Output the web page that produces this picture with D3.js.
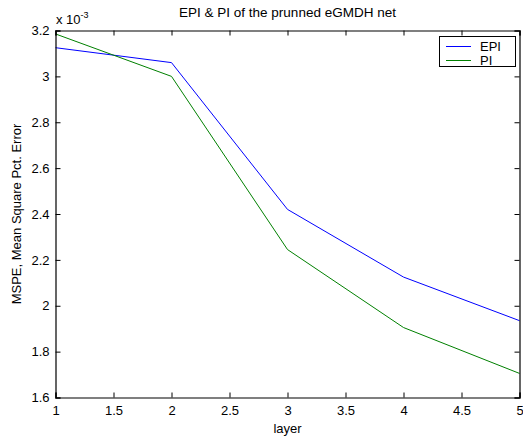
<!DOCTYPE html>
<html><head><meta charset="utf-8">
<script src="https://cdn.jsdelivr.net/npm/d3@7"></script>
<style>body{margin:0;background:#fff}svg{display:block}text{font-family:"Liberation Sans",Arial,sans-serif;fill:#000}</style>
</head><body>
<script>
const layers = [1, 2, 3, 4, 5];
const epi = [3.125, 3.06, 2.42, 2.125, 1.935];
const pi = [3.185, 3.0, 2.245, 1.905, 1.705];
const xTicks = [1, 1.5, 2, 2.5, 3, 3.5, 4, 4.5, 5];
const yTicks = [1.6, 1.8, 2, 2.2, 2.4, 2.6, 2.8, 3, 3.2];
const seriesNames = ["EPI", "PI"];
const colors = ["#0000ff", "#008000"];

const W = 523, H = 439;
const m = {l: 55.5, r: 519.5, t: 30.5, b: 397.5};
const svg = d3.select("body").append("svg").attr("width", W).attr("height", H);
const x = d3.scaleLinear().domain([1, 5]).range([m.l, m.r]);
const y = d3.scaleLinear().domain([1.6, 3.2]).range([m.b, m.t]);

const line = d3.line().x((d, i) => x(layers[i])).y(d => y(d));
[epi, pi].forEach((s, k) => {
  svg.append("path").attr("d", line(s)).attr("fill", "none")
    .attr("stroke", colors[k]).attr("stroke-width", 1);
});

const fmt = d => String(d);
const gB = svg.append("g").attr("transform", `translate(0,${m.b})`)
  .call(d3.axisBottom(x).tickValues(xTicks).tickSize(-5).tickPadding(8).tickFormat(fmt));
const gT = svg.append("g").attr("transform", `translate(0,${m.t})`)
  .call(d3.axisTop(x).tickValues(xTicks).tickSize(-5).tickFormat(""));
const gL = svg.append("g").attr("transform", `translate(${m.l},0)`)
  .call(d3.axisLeft(y).tickValues(yTicks).tickSize(-5).tickPadding(6).tickFormat(fmt));
const gR = svg.append("g").attr("transform", `translate(${m.r},0)`)
  .call(d3.axisRight(y).tickValues(yTicks).tickSize(-5).tickFormat(""));
[gB, gT, gL, gR].forEach(g => {
  g.selectAll("path.domain").attr("stroke", "#000").attr("stroke-width", 1.2);
  g.selectAll("line").attr("stroke", "#000");
  g.selectAll("text").attr("font-size", 13).attr("font-family", '"Liberation Sans",Arial,sans-serif');
});
gB.selectAll("text").attr("dy", "0.71em");

const ex = svg.append("text").attr("x", 56).attr("y", 24).attr("font-size", 13);
ex.append("tspan").text("x 10");
ex.append("tspan").attr("dy", -6).attr("font-size", 9).text("-3");

svg.append("text").attr("x", (m.l + m.r) / 2).attr("y", 17).attr("text-anchor", "middle")
  .attr("font-size", 13.5).text("EPI & PI of the prunned eGMDH net");
svg.append("text").attr("x", (m.l + m.r) / 2).attr("y", 433).attr("text-anchor", "middle")
  .attr("font-size", 13).text("layer");
svg.append("text").attr("transform", `translate(21,${(m.t + m.b) / 2}) rotate(-90)`)
  .attr("text-anchor", "middle").attr("font-size", 13).text("MSPE, Mean Square Pct. Error");

const lg = svg.append("g");
lg.append("rect").attr("x", 439.5).attr("y", 36.5).attr("width", 76).attr("height", 30)
  .attr("fill", "#fff").attr("stroke", "#000").attr("stroke-width", 1);
seriesNames.forEach((n, i) => {
  const yy = 46 + i * 14;
  lg.append("line").attr("x1", 446).attr("x2", 471).attr("y1", yy + 0.5).attr("y2", yy + 0.5)
    .attr("stroke", colors[i]);
  lg.append("text").attr("x", 480).attr("y", yy + 5).attr("font-size", 13).text(n);
});
</script>
</body></html>
